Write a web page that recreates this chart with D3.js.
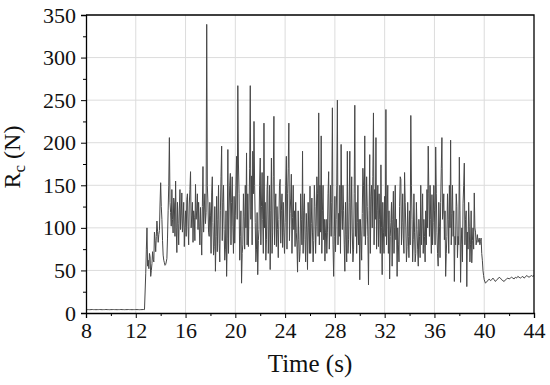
<!DOCTYPE html>
<html>
<head>
<meta charset="utf-8">
<script src="https://cdn.jsdelivr.net/npm/d3@7"></script>
<style>
  body { margin: 0; background: #fff; }
  text { font-family: "Liberation Serif", "Times New Roman", Tinos, Times, serif; fill: #111; }
</style>
</head>
<body>
<svg id="chart"></svg>
<script>
// 8.0 - 12.7 s, before the tool engages (every 0.1 s)
const idleForce = [
  4.1, 4.0, 4.0, 3.9, 4.0, 4.1, 4.0, 4.0, 3.9, 4.0,
  4.0, 4.1, 4.0, 3.9, 4.0, 4.0, 4.1, 4.0, 4.0, 3.9,
  4.0, 4.0, 4.1, 4.0, 4.0, 3.9, 4.0, 4.0, 4.1, 4.0,
  4.0, 3.9, 4.0, 4.0, 4.1, 4.0, 4.0, 3.9, 4.0, 4.0,
  4.1, 4.0, 4.0, 3.9, 4.0, 4.0, 4.1, 4.0
];

// 12.8 - 39.9 s, cutting, samples on the 0.1 s grid
const cuttingForce = [
  46, 100,
  62, 70, 43, 58, 63, 95, 72, 108, 83, 97,
  153, 110, 68, 59, 57, 64, 120, 206, 118, 145,
  94, 128, 155, 71, 105, 121, 98, 141, 108, 78,
  120, 133, 102, 128, 166, 115, 83, 112, 151, 120,
  98, 102, 124, 68, 172, 121, 105, 339, 128, 90,
  115, 141, 106, 78, 49, 137, 110, 82, 120, 196,
  130, 98, 75, 43, 192, 121, 164, 130, 102, 137,
  115, 184, 267, 140, 90, 35, 80, 113, 150, 188,
  140, 121, 267, 161, 190, 225, 106, 75, 45, 98,
  182, 125, 110, 223, 130, 86, 161, 100, 51, 182,
  94, 231, 120, 78, 98, 110, 157, 120, 77, 95,
  106, 184, 140, 223, 117, 163, 112, 98, 78, 95,
  48, 86, 72, 110, 190, 120, 86, 117, 51, 100,
  149, 105, 94, 85, 125, 102, 140, 235, 150, 208,
  120, 86, 61, 110, 95, 166, 106, 90, 241, 43,
  137, 110, 250, 117, 150, 198, 98, 120, 49, 92,
  190, 86, 190, 120, 94, 75, 244, 130, 106, 80,
  39, 90, 117, 150, 208, 110, 125, 33, 186, 137,
  100, 235, 145, 206, 120, 78, 110, 174, 45, 95,
  137, 239, 120, 70, 40, 106, 55, 143, 100, 86,
  43, 80, 125, 157, 106, 88, 165, 100, 78, 90,
  120, 232, 110, 86, 95, 70, 98, 55, 90, 150,
  108, 70, 90, 120, 145, 196, 90, 110, 139, 106,
  120, 195, 95, 55, 102, 130, 206, 120, 86, 43,
  90, 110, 150, 203, 117, 90, 37, 80, 125, 90,
  183, 36, 100, 129, 176, 110, 31, 75, 102, 80,
  59, 100, 141, 95, 86, 83, 88, 84, 70, 50
];

// 12.85 - 39.95 s, cutting, the samples in between
const cuttingMid = [
  75, 55,
  52, 66, 50, 72, 60, 85, 90, 96, 92, 128,
  125, 85, 62, 56, 60, 88, 150, 130, 102, 110,
  135, 90, 100, 130, 80, 145, 115, 95, 130, 100,
  90, 140, 80, 145, 100, 130, 120, 85, 110, 140,
  130, 80, 95, 125, 95, 140, 118, 150, 95, 130,
  70, 160, 68, 125, 90, 72, 150, 60, 160, 85,
  150, 62, 120, 88, 70, 150, 80, 160, 70, 82,
  150, 110, 175, 62, 120, 70, 140, 75, 100, 80,
  78, 170, 110, 80, 140, 150, 60, 118, 85, 150,
  80, 165, 70, 100, 62, 145, 70, 150, 120, 70,
  160, 80, 140, 125, 65, 150, 82, 140, 130, 70,
  150, 75, 170, 85, 135, 70, 150, 120, 130, 80,
  120, 60, 140, 80, 70, 140, 60, 95, 130, 70,
  70, 135, 60, 150, 70, 160, 90, 80, 95, 70,
  150, 110, 95, 70, 140, 75, 150, 130, 80, 90,
  72, 150, 80, 90, 70, 120, 150, 80, 130, 60,
  70, 130, 70, 160, 60, 140, 90, 70, 150, 110,
  110, 62, 170, 90, 80, 160, 90, 120, 70, 150,
  160, 80, 110, 75, 150, 140, 70, 100, 130, 70,
  90, 80, 150, 120, 90, 130, 110, 70, 150, 110,
  100, 60, 160, 80, 140, 70, 130, 60, 130, 65,
  80, 150, 60, 140, 60, 130, 75, 110, 65, 80,
  140, 110, 60, 80, 100, 140, 150, 70, 80, 150,
  80, 140, 70, 130, 65, 170, 110, 140, 120, 70,
  140, 70, 100, 80, 150, 120, 90, 140, 65, 80,
  120, 80, 60, 150, 80, 120, 95, 130, 60, 120,
  85, 75, 100, 80, 92, 86, 80, 88, 62, 44
];

// 40.0 - 44.0 s, after the tool leaves (every 0.1 s)
const releaseForce = [
  39, 35, 37, 38, 40, 38, 39, 41, 39, 37,
  39, 40, 42, 41, 39, 38, 37, 39, 40, 41,
  40, 41, 42, 41, 40, 42, 41, 43, 42, 41,
  42, 43, 41, 42, 44, 43, 42, 43, 44, 43,
  44
];

const xTicks = [8, 12, 16, 20, 24, 28, 32, 36, 40, 44];
const yTicks = [0, 50, 100, 150, 200, 250, 300, 350];

const data = [
  ...idleForce.map((v, i) => [8 + i * 0.1, v]),
  ...cuttingForce.flatMap((v, i) => [
    [12.8 + i * 0.1, v],
    [12.85 + i * 0.1, cuttingMid[i]],
  ]),
  ...releaseForce.map((v, i) => [40 + i * 0.1, v]),
];

const margin = { top: 15, right: 16, bottom: 72, left: 86 };
const width = 550 - margin.left - margin.right;
const height = 385 - margin.top - margin.bottom;

const svg = d3
  .select("#chart")
  .attr("width", 550)
  .attr("height", 385)
  .append("g")
  .attr("transform", `translate(${margin.left},${margin.top})`);

const xScale = d3.scaleLinear().domain([8, 44]).range([0, width]);
const yScale = d3.scaleLinear().domain([0, 350]).range([height, 0]);

// grid
svg
  .append("g")
  .selectAll("line")
  .data(xTicks.slice(1, -1))
  .enter()
  .append("line")
  .attr("x1", (d) => xScale(d))
  .attr("x2", (d) => xScale(d))
  .attr("y1", 0)
  .attr("y2", height)
  .attr("stroke", "#dcdcdc")
  .attr("stroke-width", 1);

svg
  .append("g")
  .selectAll("line")
  .data(yTicks.slice(1, -1))
  .enter()
  .append("line")
  .attr("x1", 0)
  .attr("x2", width)
  .attr("y1", (d) => yScale(d))
  .attr("y2", (d) => yScale(d))
  .attr("stroke", "#dcdcdc")
  .attr("stroke-width", 1);

// signal
const line = d3
  .line()
  .x((d) => xScale(d[0]))
  .y((d) => yScale(d[1]));

svg
  .append("path")
  .datum(data)
  .attr("fill", "none")
  .attr("stroke", "#474747")
  .attr("stroke-width", 1)
  .attr("stroke-linejoin", "round")
  .attr("d", line);

// minor ticks
svg
  .append("g")
  .attr("transform", `translate(0, ${height})`)
  .call(d3.axisBottom(xScale).tickValues(d3.range(10, 44, 4)).tickSize(3).tickFormat(""))
  .call((g) => g.select(".domain").remove());

svg
  .append("g")
  .call(d3.axisLeft(yScale).tickValues(d3.range(25, 350, 50)).tickSize(3).tickFormat(""))
  .call((g) => g.select(".domain").remove());

// axes
const xAxis = svg
  .append("g")
  .attr("id", "x-axis")
  .attr("transform", `translate(0, ${height})`)
  .call(d3.axisBottom(xScale).tickValues(xTicks).tickSize(5).tickPadding(4));

const yAxis = svg
  .append("g")
  .attr("id", "y-axis")
  .call(d3.axisLeft(yScale).tickValues(yTicks).tickSize(5).tickPadding(5));

[xAxis, yAxis].forEach((g) => {
  g.attr("font-family", null);
  g.select(".domain").attr("stroke-width", 1.3);
  g.selectAll("text").style("font-size", "22px").attr("fill", "#111");
});

// frame top/right
svg
  .append("path")
  .attr("d", `M0,0H${width}V${height}`)
  .attr("fill", "none")
  .attr("stroke", "#000")
  .attr("stroke-width", 1.3);

// labels
svg
  .append("text")
  .attr("x", width / 2)
  .attr("y", height + 59)
  .style("text-anchor", "middle")
  .style("font-size", "25px")
  .text("Time (s)");

const yLabel = svg
  .append("text")
  .attr("transform", `translate(${-66}, ${height / 2 - 7}) rotate(-90)`)
  .style("text-anchor", "middle")
  .style("font-size", "24px");
yLabel.append("tspan").text("R");
yLabel.append("tspan").attr("dy", 5).style("font-size", "17px").text("c");
yLabel.append("tspan").attr("dy", -5).text(" (N)");
</script>
</body>
</html>
